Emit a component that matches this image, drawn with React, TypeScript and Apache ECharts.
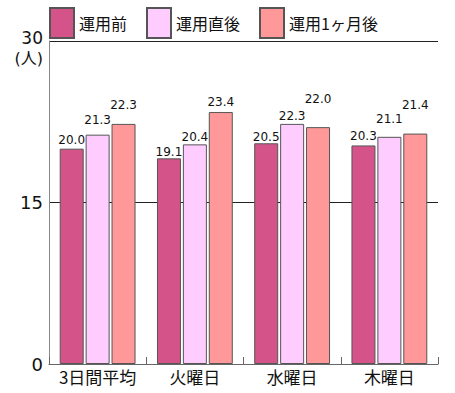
import React, { useEffect, useRef } from "react";
import * as echarts from "echarts";

const categories = ["3日間平均", "火曜日", "水曜日", "木曜日"];
const seriesNames = ["運用前", "運用直後", "運用1ヶ月後"];
const before = [20.0, 19.1, 20.5, 20.3];
const justAfter = [21.3, 20.4, 22.3, 21.1];
const oneMonthAfter = [22.3, 23.4, 22.0, 21.4];
const yTicks = [0, 15, 30];
const yUnit = "(人)";

// label lift above each bar (styling only)
const liftBefore = [2.7, 0.7, 0, 3.4];
const liftJustAfter = [9, 1.7, 1.7, 11.4];
const liftOneMonth = [13, 4.4, 22.4, 22.7];

const colors = ["#d4548a", "#ffccff", "#ff9999"];

export default function App() {
  const ref = useRef<HTMLDivElement>(null);
  useEffect(() => {
    if (!ref.current) return;
    const chart = echarts.init(ref.current, undefined, { renderer: "svg" });
    const mk = (name: string, vals: number[], lifts: number[], color: string) => ({
      name,
      type: "bar",
      barWidth: 24,
      barGap: "8%",
      itemStyle: { color, borderColor: "#555", borderWidth: 1 },
      label: {
        show: true,
        position: "top",
        color: "#111",
        fontSize: 12,
        fontFamily: "DejaVu Sans",
        formatter: (p: any) => Number(p.value).toFixed(1),
      },
      data: vals.map((v, i) => ({ value: v, label: { distance: lifts[i] } })),
    });
    const maxY = yTicks[yTicks.length - 1];
    chart.setOption({
      animation: false,
      textStyle: { fontFamily: "DejaVu Sans, 'Noto Sans CJK JP'" },
      legend: {
        left: 44,
        top: 2,
        icon: "rect",
        itemWidth: 24,
        itemHeight: 30,
        itemGap: 19,
        padding: 5,
        data: seriesNames,
        textStyle: { fontSize: 16, color: "#111", fontFamily: "'Noto Sans CJK JP'" },
      },
      grid: { left: 49, right: 17, top: 41, bottom: 29 },
      graphic: [
        {
          type: "text",
          x: 43,
          y: 29,
          style: {
            text: `{a|${maxY}}\n{b|${yUnit}}`,
            align: "right",
            verticalAlign: "top",
            fill: "#111",
            rich: {
              a: { fontSize: 17, lineHeight: 18, fontFamily: "DejaVu Sans", fill: "#111" },
              b: { fontSize: 16, lineHeight: 22, fontFamily: "DejaVu Sans, 'Noto Sans CJK JP'", fill: "#111" },
            },
          },
        },
      ],
      xAxis: {
        type: "category",
        data: categories,
        axisLine: { lineStyle: { color: "#666", width: 1 } },
        axisTick: { show: true, inside: true, length: 7, lineStyle: { color: "#666" } },
        axisLabel: { interval: 0, fontSize: 17, color: "#111", margin: 4, fontFamily: "'Noto Sans CJK JP'" },
      },
      yAxis: {
        type: "value",
        min: yTicks[0],
        max: maxY,
        interval: yTicks[1] - yTicks[0],
        axisLine: { show: true, lineStyle: { color: "#888" } },
        axisTick: { show: false },
        axisLabel: {
          fontSize: 18,
          color: "#111",
          margin: 6,
          fontFamily: "DejaVu Sans",
          formatter: (v: number) => (v === maxY ? "" : String(v)),
        },
        splitLine: { show: true, lineStyle: { color: "#222", width: 1 } },
      },
      series: [
        mk(seriesNames[0], before, liftBefore, colors[0]),
        mk(seriesNames[1], justAfter, liftJustAfter, colors[1]),
        mk(seriesNames[2], oneMonthAfter, liftOneMonth, colors[2]),
      ],
    });
    return () => chart.dispose();
  }, []);
  return <div ref={ref} style={{ width: 455, height: 393, position: "absolute", left: 0, top: 0 }} />;
}
